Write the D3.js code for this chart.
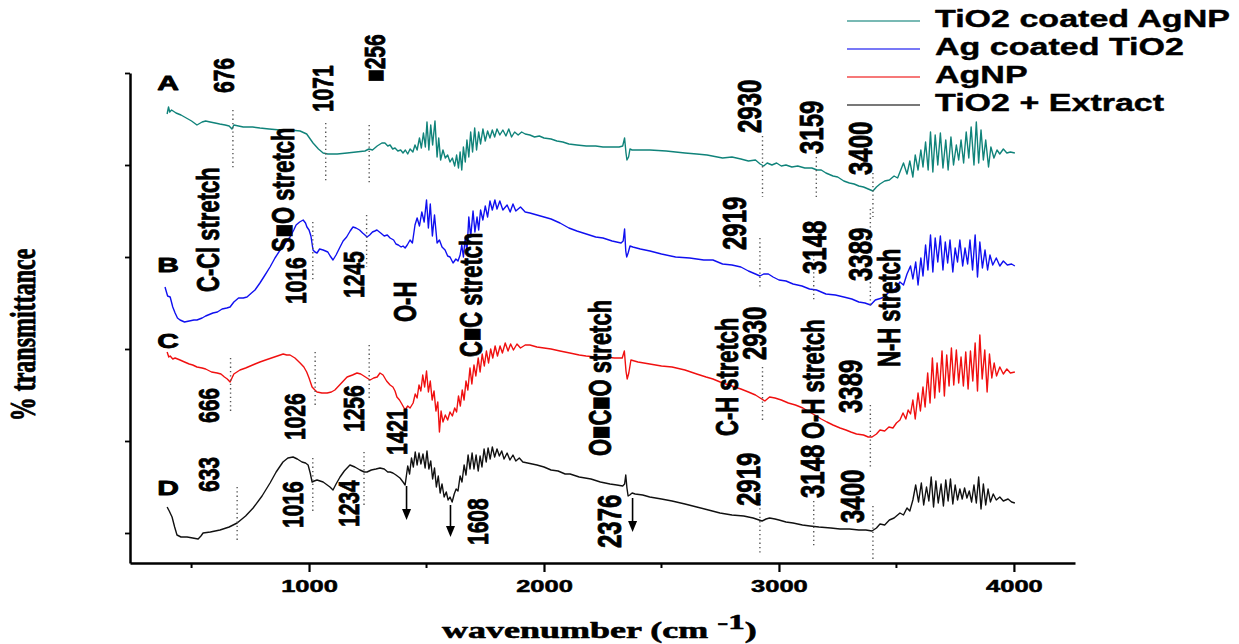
<!DOCTYPE html>
<html>
<head>
<meta charset="utf-8">
<script src="https://cdn.jsdelivr.net/npm/d3@7"></script>
<style>
  body { margin: 0; background: #fff; }
  svg { display: block; }
</style>
</head>
<body>
<div id="chart"></div>
<script>
'use strict';

// ---- data (wavenumber cm-1, offset % transmittance) ----
const seriesNames = ["TiO2 coated AgNP", "Ag coated TiO2", "AgNP", "TiO2 + Extract"];
const seriesLetters = ["A", "B", "C", "D"];
const seriesColors = ["#10837a", "#1010f0", "#f01010", "#111111"];

const seriesA = [[396,89.8],[402,91.2],[407,90.2],[415,90.6],[434,90],[455,89.6],[470,89.2],[500,88.4],[523,87.6],[545,88.2],[560,88.4],[579,88.2],[600,88],[620,87.8],[643,87.6],[660,87.4],[672,86.8],[680,87.6],[700,87.4],[720,87.2],[760,87.2],[791,87],[830,86.8],[877,86.6],[920,86.6],[962,86.4],[990,85.8],[1017,84],[1040,82.8],[1060,82],[1080,81.8],[1120,81.8],[1162,82],[1200,82.2],[1238,82.4],[1255,82.8],[1270,82.6],[1290,83.4],[1310,84],[1323,84],[1335,83.4],[1345,83.6],[1356,82.8],[1366,83],[1378,82.4],[1390,82.6],[1400,82],[1410,82.6],[1420,81.8],[1430,82.8],[1442,82.2],[1451,83.6],[1460,82.6],[1470,85],[1478,83],[1487,86],[1495,83.2],[1502,88.2],[1510,82.6],[1518,87.6],[1526,83.6],[1536,88.4],[1545,81.2],[1552,85],[1560,80.6],[1570,82.6],[1580,81],[1590,81.6],[1600,80.2],[1610,81],[1620,79.4],[1628,81.6],[1636,79],[1643,82.2],[1650,78.6],[1657,83.2],[1665,80.2],[1672,84.6],[1680,81.2],[1688,86.2],[1696,82.2],[1705,87],[1713,82.6],[1722,86.2],[1730,83.8],[1740,86.8],[1750,84.4],[1760,86.4],[1770,85],[1780,86.6],[1790,85.2],[1800,86.8],[1812,85.6],[1825,86.6],[1838,85.4],[1850,86.8],[1862,85.2],[1875,86.2],[1890,85.6],[1905,86.2],[1920,85.8],[1940,85.6],[1960,85.2],[1980,85.4],[2000,85],[2030,84.8],[2055,84.4],[2080,84.2],[2106,83.8],[2140,83.6],[2180,83.4],[2220,83.4],[2251,83.2],[2290,83.2],[2320,83.2],[2335,83.4],[2343,85],[2349,82],[2353,80.6],[2360,81.2],[2366,82.8],[2375,82.6],[2400,82.6],[2451,82.6],[2520,82.4],[2600,82],[2650,81.8],[2694,81.6],[2760,81],[2800,81.2],[2838,80.8],[2870,80.4],[2900,80.6],[2920,79.8],[2935,79.4],[2950,80],[2970,79.6],[2990,80],[3010,79.4],[3030,79.6],[3055,79.2],[3080,79.4],[3110,79],[3140,79],[3162,78.6],[3180,78.6],[3200,78],[3230,77.4],[3250,77.2],[3276,76.4],[3300,76],[3320,75.8],[3340,75.4],[3360,75.2],[3380,74.8],[3400,74.4],[3415,75.2],[3430,75.8],[3450,76.4],[3470,76.6],[3490,77.4],[3505,77],[3515,78.2],[3530,80],[3545,77.8],[3557,80.4],[3570,77.2],[3580,81.6],[3592,78.6],[3604,82.6],[3613,79.2],[3624,84.2],[3635,78.6],[3645,86.2],[3655,78.2],[3665,85.6],[3676,79.6],[3687,86],[3698,79],[3710,84.6],[3720,78.6],[3732,85.2],[3743,79.6],[3755,83.6],[3765,80.6],[3775,84.6],[3786,80],[3797,86.2],[3808,81],[3818,87.2],[3830,79.6],[3840,88.2],[3850,80],[3860,86.6],[3870,80.6],[3880,84.6],[3892,79.2],[3902,83.2],[3915,81],[3928,82.6],[3940,81.8],[3955,82.8],[3970,82],[3985,82.2],[4004,82]];

const seriesB = [[387,55.2],[398,53.4],[409,53.2],[420,51.2],[430,50],[440,49],[451,48.6],[470,48.2],[490,48.4],[510,48.6],[523,48.6],[545,49],[560,49.4],[591,50],[610,50.2],[630,50.8],[650,51],[664,51.2],[680,52.2],[700,53],[720,53],[736,53.2],[755,54],[770,54.6],[791,56],[810,57.4],[834,59.2],[855,61],[877,62.6],[900,64],[919,65.2],[935,66.6],[945,67.6],[960,68.2],[975,68.6],[985,68],[991,67.2],[1000,66.6],[1008,65.4],[1017,62.6],[1025,62.2],[1034,62],[1045,62.8],[1060,62.6],[1070,62.4],[1080,62.2],[1090,61.4],[1102,60.6],[1115,61.6],[1132,63.2],[1145,64.4],[1160,65.2],[1175,66.4],[1187,67.2],[1200,67],[1215,66.6],[1228,66],[1238,65.6],[1247,65.2],[1258,65.6],[1270,66.2],[1280,66.4],[1289,66.6],[1305,66],[1320,65.4],[1333,65.6],[1345,65],[1360,64.6],[1370,63.8],[1380,63.6],[1392,63.2],[1400,63.4],[1409,63],[1418,63.6],[1430,64.6],[1440,64],[1451,67.6],[1460,69],[1470,67.4],[1480,70.2],[1490,68.2],[1500,72.6],[1508,67],[1516,71.8],[1525,65.4],[1534,69.6],[1545,64],[1555,64.6],[1566,63.2],[1579,62.6],[1590,61.4],[1600,61.2],[1613,60],[1625,60.8],[1634,60.4],[1643,61.6],[1650,63.6],[1657,61.2],[1665,65.2],[1672,62.2],[1680,69.2],[1688,65.2],[1698,70.4],[1706,66.2],[1715,69.2],[1722,66.6],[1730,70.6],[1740,68.6],[1750,71.4],[1760,69.2],[1770,72.4],[1780,70.6],[1791,72.6],[1800,70.8],[1812,72.4],[1825,70.6],[1843,71.6],[1856,70.2],[1868,71.8],[1880,70.4],[1900,71.2],[1920,70.2],[1940,70],[1970,69.6],[2000,69.2],[2030,68.8],[2068,68],[2106,67],[2140,66.4],[2180,65.8],[2220,65.2],[2251,65],[2290,64.4],[2328,64],[2337,64.4],[2343,66.8],[2348,62.4],[2352,61.2],[2358,62],[2366,63.4],[2378,63.2],[2410,62.8],[2451,62.4],[2500,61.8],[2560,61.2],[2620,61],[2680,60.6],[2719,60.6],[2760,59.8],[2800,59.6],[2838,59.2],[2870,58.4],[2900,57.8],[2919,57.4],[2935,57.8],[2955,57.8],[2975,57.2],[3000,56.6],[3030,56.4],[3060,55.8],[3098,55.4],[3130,54.8],[3160,54.6],[3200,53.8],[3240,53.6],[3276,53.2],[3310,52.8],[3340,52.2],[3366,52],[3390,51.6],[3410,52.6],[3438,53],[3465,54],[3498,55],[3515,56.2],[3530,55.6],[3545,57.8],[3560,59.4],[3570,56.8],[3582,60.2],[3592,55.6],[3604,61],[3613,57.4],[3624,63.6],[3634,58.6],[3645,65.6],[3655,58.2],[3665,65],[3676,60.2],[3687,65.4],[3698,58.6],[3708,64.2],[3718,60],[3728,64.6],[3740,58.2],[3750,63],[3760,60.2],[3770,64.6],[3782,59.4],[3792,63],[3803,59.8],[3813,64.6],[3824,58.6],[3835,65.6],[3845,57.2],[3855,64.2],[3866,59],[3877,62.6],[3888,58.6],[3898,61.6],[3910,59.6],[3925,61],[3940,59.4],[3955,60.4],[3972,59.6],[3990,59.8],[4004,59.4]];

const seriesC = [[396,42.2],[403,41.2],[409,41.4],[420,40.8],[430,41],[451,40.6],[470,40.2],[490,39.8],[505,39.6],[523,39.2],[545,39],[560,38.8],[585,38.2],[609,38],[625,37.8],[640,37.2],[652,36.8],[664,36.2],[672,37],[680,37.8],[706,38.6],[730,39],[750,39.4],[770,39.8],[791,40.2],[815,40.6],[840,41],[865,41.4],[890,41.8],[905,41.6],[919,41.6],[940,41],[962,40],[978,39.2],[990,38.2],[1000,37],[1013,35.2],[1025,34.6],[1034,34.2],[1055,34],[1077,34],[1095,34.2],[1110,34.6],[1130,35.6],[1150,36.6],[1162,37.2],[1185,37.6],[1204,38],[1220,37.8],[1240,37.2],[1260,36.6],[1275,37],[1290,37.2],[1302,38],[1315,37.6],[1330,36.4],[1345,35.6],[1357,35.2],[1366,34.4],[1374,33.2],[1385,32.6],[1395,31.8],[1409,30.6],[1420,31.4],[1430,31],[1443,32],[1452,33.8],[1460,33],[1468,35.6],[1476,34.4],[1484,37.6],[1492,35.2],[1500,38.4],[1508,34.2],[1516,36.4],[1524,32.6],[1532,34.4],[1540,30.4],[1548,32.2],[1555,26.2],[1562,30.4],[1570,28.2],[1580,29.6],[1590,28.6],[1600,30.2],[1610,29.4],[1620,31],[1628,30.2],[1636,33.4],[1644,31.4],[1652,34.6],[1660,32.6],[1668,36.4],[1676,34.6],[1685,39],[1693,35.8],[1702,39.6],[1710,37.4],[1720,41],[1728,38.2],[1737,41.8],[1746,39.4],[1755,42.4],[1764,40],[1773,42.8],[1782,41],[1792,43.4],[1802,41.4],[1813,43.4],[1823,42],[1835,44],[1847,42.4],[1858,43.8],[1870,42.6],[1885,43.8],[1900,43],[1920,43.6],[1940,43.6],[1970,43.2],[2000,43],[2030,42.8],[2068,42.4],[2110,42],[2150,41.6],[2179,41.4],[2220,41.2],[2260,41.2],[2300,41],[2333,41],[2342,42.4],[2349,38.4],[2354,36.8],[2361,38],[2370,40.6],[2385,40.4],[2400,40.2],[2450,39.8],[2500,39.4],[2545,39.2],[2600,38.6],[2650,37.8],[2690,37.2],[2719,36.8],[2760,36],[2800,35.4],[2838,34.8],[2870,34.2],[2900,33.6],[2920,33],[2940,32.4],[2960,33.2],[2983,33],[3010,32.6],[3040,32],[3070,31.6],[3102,31],[3130,30.2],[3160,29.4],[3180,28.8],[3204,28.2],[3230,27.6],[3260,27],[3285,26.6],[3306,26.2],[3330,25.8],[3360,25.6],[3380,25.2],[3396,25.2],[3415,25.8],[3430,26.6],[3450,26.4],[3468,27.2],[3485,27],[3500,28],[3515,28.6],[3528,30],[3540,28.8],[3550,30.6],[3560,29.8],[3570,32.6],[3580,28.8],[3592,34],[3602,30.4],[3613,35.2],[3622,31.2],[3633,38],[3643,32],[3653,41],[3663,33],[3673,40],[3683,34.2],[3694,42.4],[3704,33.4],[3714,41.6],[3724,35.4],[3734,43],[3744,35.6],[3755,42.6],[3765,36],[3775,41.2],[3785,35.4],[3795,42.2],[3805,34.8],[3815,42.4],[3825,36.4],[3835,44],[3845,34.4],[3855,45.6],[3865,36.8],[3876,42.6],[3886,34.2],[3896,41.8],[3906,37],[3916,40],[3926,37.4],[3940,39.2],[3955,37.8],[3970,38.8],[3985,38],[4004,38.2]];

const seriesD = [[396,11.2],[405,10.4],[417,9.2],[428,7.2],[438,5.6],[455,5.2],[481,5.2],[505,5],[528,4.8],[540,5.4],[549,6],[580,6.2],[621,6.6],[660,7.2],[694,8],[730,9.4],[762,11],[800,13.4],[834,16],[860,18.2],[889,20.2],[910,21],[932,21.2],[950,20.8],[970,20.2],[985,20],[996,19.6],[1005,18],[1013,16.2],[1022,16.4],[1034,16.6],[1060,16.2],[1089,15.2],[1102,14.6],[1115,15.8],[1132,17.2],[1150,18.4],[1174,19.6],[1195,19.2],[1217,18.6],[1235,18.2],[1247,18.2],[1265,18.6],[1285,18.8],[1302,19],[1320,18.8],[1335,18.2],[1345,18.2],[1357,18],[1370,17.6],[1387,17],[1400,16.2],[1409,15.6],[1420,19.4],[1428,17.8],[1436,21],[1444,19.2],[1452,22.2],[1460,19.6],[1468,22],[1476,19.8],[1485,21.8],[1494,19],[1502,22.4],[1510,18.8],[1518,20.4],[1526,16.8],[1534,19],[1542,15.2],[1550,17.4],[1558,14],[1566,15.8],[1575,13.2],[1584,14.2],[1592,12.6],[1600,13.2],[1609,12.2],[1618,13.8],[1626,14.8],[1634,14.4],[1643,17.4],[1651,16.2],[1660,19.6],[1668,17.6],[1677,21.6],[1685,18.8],[1694,22],[1702,18.8],[1711,21.6],[1720,18.4],[1728,21.4],[1736,19.2],[1745,22.8],[1754,20.2],[1762,23],[1771,20.8],[1780,23.2],[1790,21.2],[1800,22.8],[1810,21.4],[1820,22.4],[1830,20.8],[1843,22],[1855,20.6],[1868,21.6],[1880,20.4],[1895,21],[1910,20.2],[1930,20],[1950,19.8],[1970,19.6],[2000,19.2],[2030,18.6],[2060,18.4],[2090,17.8],[2111,17.8],[2150,17.2],[2200,16.8],[2240,16.2],[2281,15.8],[2310,15.6],[2335,15.4],[2343,15.8],[2348,17.6],[2353,15],[2358,13.4],[2365,13.6],[2375,14],[2388,13.8],[2420,13.6],[2450,13.2],[2500,12.8],[2545,12.4],[2600,11.8],[2650,11.2],[2700,10.6],[2749,10],[2800,9.6],[2850,9.4],[2890,9],[2928,8.4],[2945,8.8],[2960,9],[2983,8.8],[3000,8.6],[3030,8.2],[3060,8],[3100,7.6],[3132,7.4],[3170,7.2],[3221,7],[3260,6.8],[3300,6.8],[3340,6.6],[3370,6.6],[3396,6.4],[3415,7],[3430,7.8],[3450,7.6],[3470,8.6],[3490,9],[3515,10],[3530,9.6],[3545,11],[3557,10.4],[3570,12.6],[3582,15.6],[3594,12.2],[3606,16],[3616,11.6],[3628,15.2],[3638,12.4],[3648,17.2],[3658,11.2],[3668,16.4],[3678,12],[3690,15.8],[3700,11.4],[3710,16.6],[3720,12.4],[3730,16.8],[3740,11.8],[3750,15.6],[3760,12.6],[3770,14.8],[3780,12.8],[3790,15],[3800,13],[3810,14.4],[3820,12.2],[3830,15.6],[3840,12],[3850,17.2],[3860,10.8],[3870,15.8],[3880,11.6],[3890,14.8],[3900,12.2],[3912,13.8],[3925,12.6],[3940,13.2],[3955,12.4],[3975,12.8],[3990,12.2],[4004,12]];

const allSeries = [seriesA, seriesB, seriesC, seriesD];

// letter tags next to each trace: [wavenumber, level]
const letterTags = [[400, 94.6], [400, 58.2], [400, 43], [400, 13.6]];

// dotted peak markers: [wavenumber, top, bottom]
const peakLines = [
  [676,90.6,79],[1071,88,76],[1256,87.6,75.6],[2930,85.4,73.2],[3159,81.2,72.6],[3400,78,69.2],
  [1016,68.2,56.6],[1245,69.6,59.2],[2919,65,55],[3148,61.6,52.4],[3389,70.8,51.6],
  [666,41,30],[1026,42.2,31.2],[1256,43.6,32.6],[2930,39.2,28.2],[3389,31.6,19.2],
  [694,15.2,4.2],[1016,21,10],[1234,22.2,11.6],[2919,14.4,1.8],[3148,12.4,3.4],[3400,11.4,0.6]
];

// peak numbers: [text, wavenumber, level of text start]
const peakLabels = [
  ["676",636,94],["1071",1057,90.2],["\u25A0256",1279,96.2],["2930",2872,86],["3159",3136,81.8],["3400",3345,77.6],
  ["1016",943,51.8],["1245",1191,53],["2919",2809,62.6],["3148",3149,57.8],["3389",3345,56.4],
  ["666",572,28],["1026",940,24.6],["1256",1189,26.2],["1421",1372,21.6],["2930",2894,40.6],["3389",3302,30],
  ["633",572,14.2],["1016",930,7],["1234",1170,7.2],["1608",1717,3.6],["2376",2277,3],["2919",2868,11.4],["3148",3140,13],["3400",3311,8]
];

// bond assignments: [text, wavenumber, level of text start]
const bondLabels = [
  ["C-Cl stretch",570,54.2],["S\u25A0O stretch",887,62.2],["O-H",1406,48.2],["C\u25A0C stretch",1687,41.2],
  ["O\u25A0C\u25A0O stretch",2238,21.4],["C-H stretch",2779,25.4],["O-H stretch",3145,24.8],["N-H stretch",3468,39.2]
];

// arrows on trace D: [wavenumber, from, to]
const arrowsD = [[1415,15.4,8.6],[1602,11.6,5.2],[2377,13,6.2]];

const xMajor = [1000, 2000, 3000, 4000];
const xMinor = [500, 1500, 2500, 3500];
const yTicks = [6, 24.4, 42.8, 61.2, 79.6, 98];

// ---- drawing ----
const W = 1239, H = 644;
const sans = "'Liberation Sans', Arial, sans-serif";
const serif = "'Liberation Serif', 'Times New Roman', serif";

const svg = d3.select("#chart").append("svg").attr("width", W).attr("height", H);

const x = d3.scaleLinear().domain([238, 4260]).range([130, 1075]);
const y = d3.scaleLinear().domain([0, 98]).range([563, 73]);

// traces
const line = d3.line().x(d => x(d[0])).y(d => y(d[1]));
svg.append("g")
  .selectAll("path")
  .data(allSeries)
  .enter().append("path")
  .attr("d", line)
  .attr("fill", "none")
  .attr("stroke", (d, i) => seriesColors[i])
  .attr("stroke-width", 1.4)
  .attr("stroke-linejoin", "round");

// dotted markers
svg.append("g")
  .selectAll("line")
  .data(peakLines)
  .enter().append("line")
  .attr("x1", d => x(d[0])).attr("x2", d => x(d[0]))
  .attr("y1", d => y(d[1])).attr("y2", d => y(d[2]))
  .attr("stroke", "#555")
  .attr("stroke-width", 1.4)
  .attr("stroke-dasharray", "1.3,3");

// heavy text look
function heavy(sel, w)
{
  return sel.attr("fill", "#000").attr("stroke", "#000").attr("stroke-width", w).attr("stroke-linejoin", "round");
}

// rotated labels
function vText(g, data, size, sx)
{
  heavy(g.selectAll(null)
    .data(data)
    .enter().append("text")
    .attr("transform", d => `translate(${x(d[1])},${y(d[2])}) scale(${sx},1) rotate(-90)`)
    .attr("dy", "0.35em")
    .attr("font-family", sans)
    .attr("font-weight", "bold")
    .attr("font-size", typeof size === "function" ? size : () => size)
    .text(d => d[0]), 0.6);
}

vText(svg.append("g"), peakLabels, d => d[1] < 2000 ? 21 : 24, 1.4);
vText(svg.append("g"), bondLabels, 22, 1.45);

// arrows
const ga = svg.append("g");
arrowsD.forEach(function(a) {
  const ax = x(a[0]), y0 = y(a[1]), y1 = y(a[2]);
  ga.append("line")
    .attr("x1", ax).attr("x2", ax).attr("y1", y0).attr("y2", y1 - 8)
    .attr("stroke", "#000").attr("stroke-width", 1.6);
  ga.append("path")
    .attr("d", `M${ax - 4.5},${y1 - 11}L${ax + 4.5},${y1 - 11}L${ax},${y1}Z`)
    .attr("fill", "#000");
});

// letter tags
heavy(svg.append("g")
  .selectAll("text")
  .data(letterTags)
  .enter().append("text")
  .attr("transform", d => `translate(${x(d[0])},${y(d[1])}) scale(1.5,1)`)
  .attr("text-anchor", "middle")
  .attr("font-family", sans)
  .attr("font-weight", "bold")
  .attr("font-size", 20)
  .text((d, i) => seriesLetters[i]), 0.8);

// axes
const gx = svg.append("g")
  .attr("transform", `translate(0,${y(0)})`)
  .call(d3.axisBottom(x).tickValues(xMajor).tickSize(9).tickPadding(8).tickSizeOuter(0).tickFormat(d3.format("d")));
gx.select(".domain").attr("stroke-width", 2.5);
gx.selectAll(".tick line").attr("stroke-width", 2.2);
heavy(gx.selectAll(".tick text")
  .attr("font-family", sans)
  .attr("font-weight", "bold")
  .attr("font-size", 17)
  .attr("transform", "scale(1.5,1)"), 0.5);

svg.append("g")
  .selectAll("line")
  .data(xMinor)
  .enter().append("line")
  .attr("x1", d => x(d)).attr("x2", d => x(d))
  .attr("y1", y(0)).attr("y2", y(0) + 5)
  .attr("stroke", "#000").attr("stroke-width", 2);

const gy = svg.append("g")
  .attr("transform", `translate(${x.range()[0]},0)`)
  .call(d3.axisLeft(y).tickValues(yTicks).tickSize(5).tickSizeOuter(0).tickFormat(""));
gy.select(".domain").attr("stroke-width", 2.5);
gy.selectAll(".tick line").attr("stroke-width", 1.8);

// axis titles
const xt = heavy(svg.append("text")
  .attr("transform", `translate(442,638) scale(1.5,1)`)
  .attr("font-family", serif)
  .attr("font-weight", "bold")
  .attr("font-size", 24), 0.6);
xt.append("tspan").text("wavenumber (cm ");
xt.append("tspan").attr("dy", -9).attr("font-size", 22).text("-1");
xt.append("tspan").attr("dy", 9).text(")");

heavy(svg.append("text")
  .attr("transform", `translate(24,335) scale(1.5,1) rotate(-90)`)
  .attr("text-anchor", "middle")
  .attr("dy", "0.3em")
  .attr("font-family", serif)
  .attr("font-weight", "bold")
  .attr("font-size", 24)
  .text("% transmittance"), 0.6);

// legend
const lg = svg.append("g");
seriesNames.forEach(function(name, i) {
  const by = 27 + i * 28;
  lg.append("line")
    .attr("x1", 847).attr("x2", 920)
    .attr("y1", by - 6).attr("y2", by - 6)
    .attr("stroke", seriesColors[i])
    .attr("stroke-width", 1.3)
    .attr("opacity", 0.75);
  heavy(lg.append("text")
    .attr("transform", `translate(935,${by}) scale(1.48,1)`)
    .attr("font-family", sans)
    .attr("font-weight", "bold")
    .attr("font-size", 23)
    .text(name), 0.4);
});
</script>
</body>
</html>
